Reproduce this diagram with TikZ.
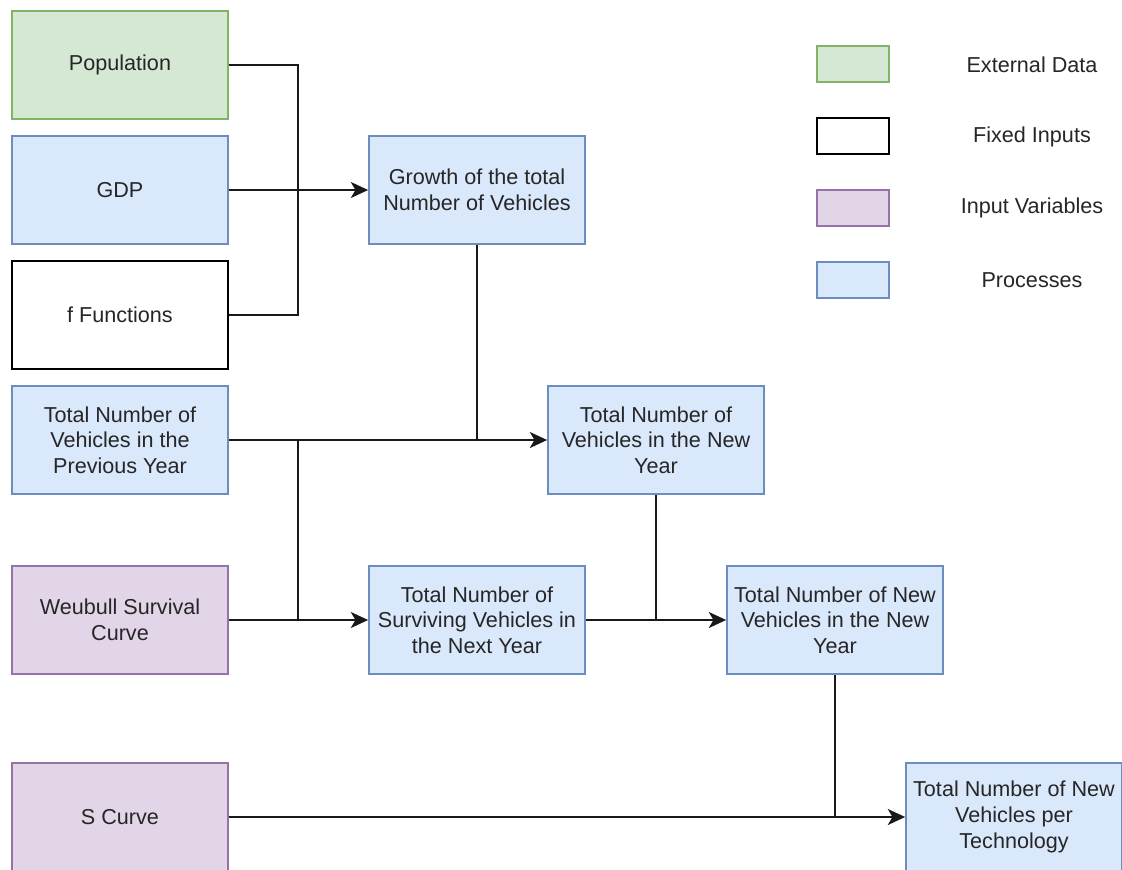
\documentclass[tikz,border=0pt]{standalone}
\usepackage{fontspec}
\setmainfont{Liberation Sans}
\usetikzlibrary{arrows.meta}

\definecolor{extfill}{HTML}{D5E8D4}
\definecolor{extline}{HTML}{82B366}
\definecolor{procfill}{HTML}{DAE8FC}
\definecolor{procline}{HTML}{6C8EBF}
\definecolor{varfill}{HTML}{E1D5E7}
\definecolor{varline}{HTML}{9673A6}
\definecolor{inktext}{HTML}{262626}

\begin{document}
\begin{tikzpicture}[x=0.75pt, y=-0.75pt,
  box/.style={draw, line width=1.3pt, minimum width=162pt, minimum height=81pt,
    align=center, inner sep=2pt, text=inktext,
    font=\fontsize{16.2}{19.2}\selectfont},
  extbox/.style={box, fill=extfill, draw=extline},
  fixbox/.style={box, fill=white, draw=black},
  varbox/.style={box, fill=varfill, draw=varline},
  procbox/.style={box, fill=procfill, draw=procline},
  keybox/.style={minimum width=54pt, minimum height=27pt, line width=1.3pt, inner sep=0pt},
  keytext/.style={text=inktext, font=\fontsize{16.2}{19.2}\selectfont},
  link/.style={line width=1.5pt, draw=black!90},
  arrow/.style={link, -{Stealth[length=13pt, width=12pt, inset=3.5pt]}}]

\useasboundingbox (0,0) rectangle (1122,869);
\fill[white] (0,0) rectangle (1122,869);

% input column
\node[extbox]  (pop)   at (120,65)  {Population};
\node[procbox] (gdp)   at (120,190) {GDP};
\node[fixbox]  (ffun)  at (120,315) {f Functions};
\node[procbox] (prev)  at (120,440) {Total Number of\\Vehicles in the\\Previous Year};
\node[varbox]  (weib)  at (120,620) {Weubull Survival\\Curve};
\node[varbox]  (scurve) at (120,817) {S Curve};

% process boxes
\node[procbox] (growth)  at (477,190) {Growth of the total\\Number of Vehicles};
\node[procbox] (newyear) at (656,440) {Total Number of\\Vehicles in the New\\Year};
\node[procbox] (surv)    at (477,620) {Total Number of\\Surviving Vehicles in\\the Next Year};
\node[procbox] (newveh)  at (835,620) {Total Number of New\\Vehicles in the New\\Year};
\node[procbox] (tech)    at (1014,817) {Total Number of New\\Vehicles per\\Technology};

% key
\node[keybox, fill=extfill,  draw=extline]  (k1) at (853,64)  {};
\node[keybox, fill=white,    draw=black]    (k2) at (853,136) {};
\node[keybox, fill=varfill,  draw=varline]  (k3) at (853,208) {};
\node[keybox, fill=procfill, draw=procline] (k4) at (853,280) {};
\node[keytext] (t1) at (1032,65)  {External Data};
\node[keytext] (t2) at (1032,137) {Fixed Inputs};
\node[keytext] (t3) at (1032,208) {Input Variables};
\node[keytext] (t4) at (1032,280) {Processes};

% junction points
\coordinate (jg) at (298,190);
\coordinate (jp) at (298,440);

% connectors
\draw[link] (pop.east) -| (jg);
\draw[link] (ffun.east) -| (jg);
\draw[arrow] (gdp.east) -- (growth.west);
\draw[link] (growth.south) -- (growth.south |- prev.east);
\draw[arrow] (prev.east) -- (newyear.west);
\draw[link] (jp) -- (jp |- weib.east);
\draw[arrow] (weib.east) -- (surv.west);
\draw[arrow] (surv.east) -- (newveh.west);
\draw[link] (newyear.south) -- (newyear.south |- surv.east);
\draw[link] (newveh.south) -- (newveh.south |- scurve.east);
\draw[arrow] (scurve.east) -- (tech.west);
\end{tikzpicture}
\end{document}
